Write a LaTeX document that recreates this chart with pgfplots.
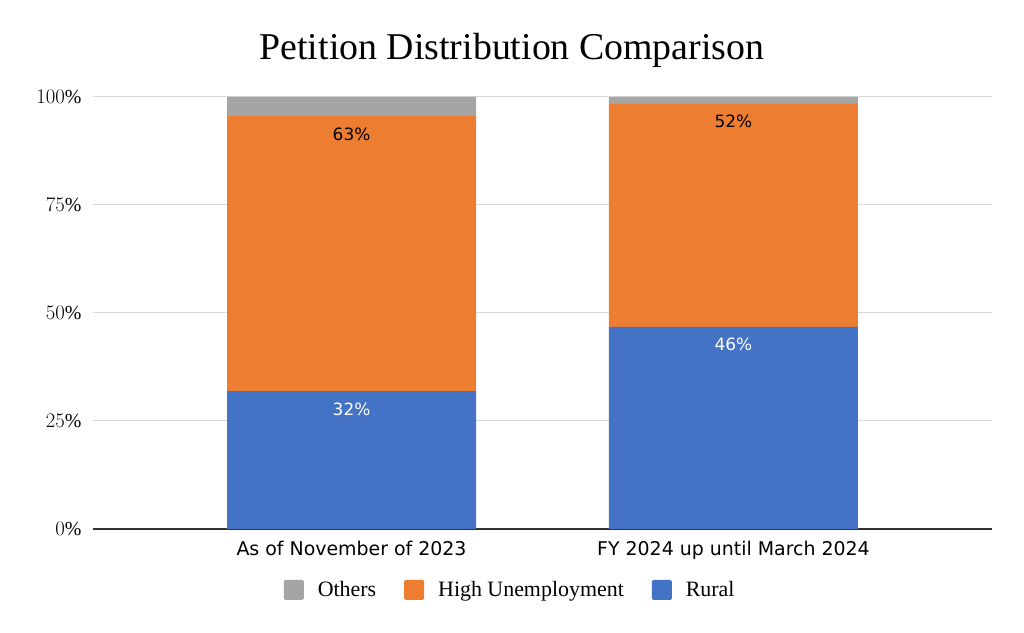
\documentclass[border=0pt]{standalone}
\usepackage{pgfplots}
\pgfplotsset{compat=1.18}
\usepackage{fontspec}
\setmainfont{Liberation Serif}
\newfontfamily\sans{DejaVu Sans}

\definecolor{rural}{HTML}{4472C4}
\definecolor{highun}{HTML}{ED7D31}
\definecolor{others}{HTML}{A5A5A5}

\begin{document}
\begin{tikzpicture}[x=1bp,y=1bp]
\useasboundingbox (0,0) rectangle (1024,633);
\node[font=\fontsize{38}{42}\selectfont] at (512,583) {Petition Distribution Comparison};
\begin{axis}[
    at={(93bp,104bp)}, anchor=south west,
    scale only axis,
    width=899bp, height=432bp,
    xmin=-0.677, xmax=1.677,
    ymin=0, ymax=100,
    ybar stacked, bar width=0.652,
    xtick={0,1},
    xticklabels={As of November of 2023, FY 2024 up until March 2024},
    xticklabel style={font=\sans\fontsize{19}{22}\selectfont, yshift=-9bp},
    ytick={0,25,50,75,100},
    yticklabel={\pgfmathprintnumber{\tick}\%},
    yticklabel style={font=\fontsize{20}{22}\selectfont, xshift=-8bp},
    tick style={draw=none},
    axis line style={draw=none},
    ymajorgrids,
    grid style={color=black!15, line width=1pt},
    extra y ticks={0},
    extra y tick labels={},
    extra y tick style={grid style={color=black!80, line width=1.3pt}},
    legend columns=3,
    legend style={draw=none, at={(0.464,-0.141)}, anchor=center,
        font=\fontsize{22}{24}\selectfont,
        /tikz/every odd column/.append style={column sep=12bp},
        /tikz/every even column/.append style={column sep=26bp}},
    legend image code/.code={\fill[#1, draw=none, rounded corners=1.5bp] (0bp,-10bp) rectangle (20bp,10bp);},
    nodes near coords,
    point meta=explicit symbolic,
    visualization depends on={rawy \as \ry},
    every node near coord/.append style={font=\sans\fontsize{17}{20}\selectfont,
        anchor=north, yshift={(2.16*\ry-8)*1bp}},
]
\addlegendimage{fill=others}
\addlegendentry{Others}
\addlegendimage{fill=highun}
\addlegendentry{High Unemployment}
\addlegendimage{fill=rural}
\addlegendentry{Rural}

% Rural
\addplot[fill=rural, draw=none, every node near coord/.append style={text=white}]
    coordinates {(0,31.9)[32\%] (1,46.8)[46\%]};
% High Unemployment
\addplot[fill=highun, draw=none, every node near coord/.append style={text=black}]
    coordinates {(0,63.7)[63\%] (1,51.6)[52\%]};
% Others
\addplot[fill=others, draw=none, nodes near coords={}]
    coordinates {(0,4.4)[] (1,1.6)[]};
\end{axis}
\end{tikzpicture}
\end{document}
